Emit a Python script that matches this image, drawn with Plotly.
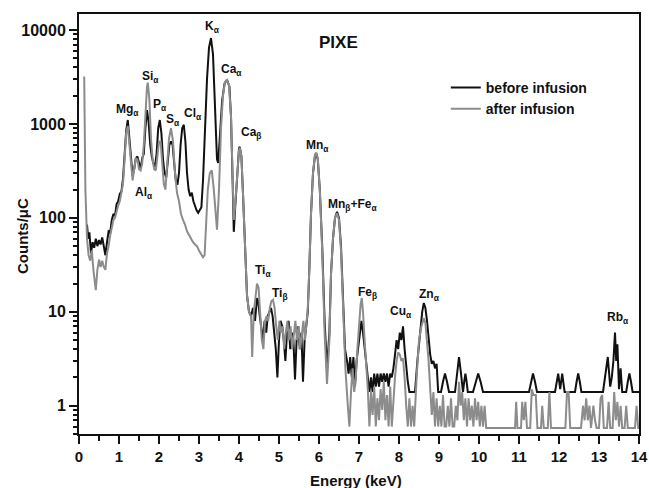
import numpy as np
import plotly.graph_objects as go

# ---------------- data ----------------
before_x = [0.20,0.23,0.26,0.30,0.34,0.38,0.42,0.46,0.50,0.54,0.58,0.62,0.66,0.70,0.74,0.78,0.82,0.86,0.90,0.94,0.98,
            1.02,1.06,1.10,1.14,1.18,1.22,1.26,1.30,1.34,1.38,1.42,1.46,1.50,1.54,1.58,1.62,1.66,1.70,1.74,1.78,1.82,1.86,1.90,1.94,1.98,
            2.02,2.06,2.10,2.14,2.18,2.22,2.26,2.30,2.34,2.38,2.42,2.46,2.50,2.54,2.58,2.62,2.66,2.70,2.74,2.78,2.82,2.86,2.90,2.94,2.98,
            3.02,3.06,3.10,3.15,3.20,3.25,3.30,3.35,3.40,3.45,3.48,3.52,3.58,3.64,3.70,3.76,3.80,3.84,3.87,3.90,3.95,4.00,4.02,4.06,4.10,4.15,
            4.20,4.25,4.30,4.35,4.40,4.45,4.48,4.52,4.56,4.60,4.64,4.68,4.72,4.76,4.80,4.84,4.88,4.92,4.96,5.00,5.04,5.08,5.12,5.16,5.20,
            5.24,5.28,5.32,5.36,5.40,5.44,5.48,5.52,5.56,5.60,5.64,5.68,5.72,5.76,5.80,5.85,5.90,5.93,5.97,6.02,6.08,6.14,6.20,6.26,6.30,
            6.35,6.40,6.45,6.50,6.55,6.60,6.65,6.70,6.74,6.78,6.82,6.86,6.90,6.94,6.98,7.02,7.06,7.10,7.14,7.18,7.22,7.26,7.30,7.34,7.38,
            7.42,7.46,7.50,7.54,7.58,7.62,7.66,7.70,7.74,7.78,7.82,7.86,7.90,7.94,7.98,8.02,8.06,8.10,8.14,8.18,8.22,8.26,8.30,8.40,8.46,
            8.52,8.58,8.62,8.66,8.70,8.74,8.78,8.82,8.86,8.90,8.94,8.98,9.05,9.10,9.15,9.20,9.25,9.40,9.45,9.50,9.54,9.56,9.60,9.63,9.66,9.69,
            9.72,9.85,9.92,9.98,10.04,10.10,11.25,11.30,11.35,11.40,11.45,11.90,11.98,12.03,12.08,12.14,12.40,12.44,12.48,12.52,12.56,
            13.10,13.16,13.22,13.28,13.32,13.36,13.40,13.43,13.46,13.50,13.54,13.58,13.68,13.72,13.76,13.80,13.84,14.00]
before_y = [85,60,70,42,55,48,60,50,58,52,62,48,40,55,72,70,95,110,105,140,150,
            180,190,260,450,850,1100,700,380,280,330,430,450,380,330,430,480,900,1400,1050,600,450,380,350,480,900,
            1100,800,420,300,270,400,600,650,600,380,250,225,300,600,900,980,650,300,200,170,185,150,130,120,113,
            120,130,250,900,3000,6500,8200,5500,1500,420,385,700,1800,2700,2950,2500,1200,250,71,120,300,550,570,450,180,50,
            15,10,9,11,8,14,13,9,7,5,8,6,9,10,11,9,6,4,2.0,5,8,7,5,3,6,
            8,4,6,5,1.9,5,7,4,6,1.8,5,7,10,30,110,300,460,490,420,200,50,8,2.5,6,25,
            60,100,116,100,50,12,4,3,2.2,3.3,2,3.3,1.6,3,4,6,8,6,4,2.5,2,1.4,2,1.4,2.2,
            1.6,2.2,1.6,2.2,1.8,2.2,1.8,2.2,1.6,2.2,2.0,2.5,3.5,5,4,6,5,7,4,2.5,1.8,1.4,1.4,1.4,3,
            6,10,12.4,11,8,5,3.5,2.8,3,2.5,2.8,1.4,1.4,1.8,2.2,1.8,1.4,1.4,2.3,3.3,2.4,2.0,1.4,1.8,2.2,1.8,
            1.4,1.4,1.8,2.2,1.8,1.4,1.4,1.8,2.2,1.8,1.4,1.4,2.2,1.5,2.2,1.4,1.4,1.8,2.2,1.8,1.4,
            1.4,2.2,3.3,1.6,2.0,3,6,3,4.5,1.5,2.5,1.4,1.4,1.8,2.2,1.8,1.4,1.4]

after_x = [0.13,0.16,0.20,0.24,0.28,0.32,0.36,0.40,0.42,0.46,0.50,0.54,0.58,0.62,0.66,0.70,0.74,0.78,0.82,0.86,0.90,0.94,0.98,
           1.02,1.06,1.10,1.14,1.18,1.22,1.26,1.30,1.34,1.38,1.42,1.46,1.50,1.54,1.58,1.62,1.66,1.70,1.72,1.76,1.80,1.84,1.88,1.92,1.96,
           2.00,2.04,2.08,2.12,2.16,2.20,2.25,2.30,2.35,2.40,2.45,2.50,2.55,2.60,2.65,2.70,2.75,2.80,2.85,2.90,2.95,3.00,3.05,3.10,3.14,
           3.18,3.22,3.27,3.32,3.37,3.42,3.45,3.50,3.55,3.60,3.65,3.70,3.75,3.80,3.84,3.87,3.90,3.95,4.00,4.02,4.06,4.10,4.15,4.20,4.25,
           4.30,4.33,4.37,4.41,4.45,4.49,4.53,4.57,4.61,4.65,4.69,4.73,4.77,4.81,4.85,4.89,4.93,4.97,5.01,5.05,5.09,5.13,5.17,5.21,5.25,
           5.29,5.33,5.37,5.41,5.45,5.49,5.53,5.57,5.61,5.65,5.69,5.72,5.76,5.80,5.85,5.90,5.93,5.97,6.02,6.08,6.14,6.20,6.26,6.30,6.35,
           6.40,6.45,6.50,6.55,6.60,6.66,6.72,6.76,6.80,6.84,6.88,6.92,6.96,7.00,7.04,7.07,7.10,7.14,7.18,7.22,7.26,7.30,7.34,7.38,7.42,
           7.46,7.50,7.54,7.58,7.62,7.66,7.70,7.74,7.78,7.82,7.86,7.90,7.94,7.98,8.02,8.06,8.10,8.14,8.18,8.22,8.26,8.30,8.34,8.38,8.44,
           8.50,8.56,8.62,8.66,8.70,8.74,8.78,8.82,8.86,8.90,8.94,8.98,9.02,9.06,9.10,9.14,9.18,9.22,9.26,9.30,9.34,9.38,9.42,9.46,9.50,
           9.54,9.58,9.62,9.66,9.70,9.74,9.78,9.82,9.86,9.90,9.94,9.98,10.02,10.06,10.10,10.14,10.18,10.90,10.93,10.96,11.05,11.08,11.12,
           11.16,11.20,11.28,11.32,11.36,11.42,11.46,11.55,11.58,11.62,11.72,11.76,11.80,12.16,12.20,12.24,12.28,12.55,12.60,12.64,12.68,
           12.72,12.76,12.80,12.86,12.90,12.94,13.00,13.04,13.08,13.12,13.20,13.24,13.28,13.34,13.38,13.42,13.46,13.50,13.54,13.58,13.64,
           13.68,13.72,13.90,13.94,13.98,14.00]
after_y = [3200,200,60,40,35,45,28,18,17,28,36,30,35,30,28,42,50,65,80,95,100,120,135,
           150,180,230,420,800,950,600,320,250,330,430,420,330,320,380,600,1500,2500,2750,1800,700,420,330,320,450,
           650,650,400,230,200,350,700,900,650,300,185,150,110,95,85,72,65,60,55,52,50,45,42,38,40,
           90,200,300,320,200,90,75,200,900,2000,2800,2950,2600,1200,300,95,130,300,520,560,450,180,50,15,10,
           9,3.3,10,14,20,18,10,5,4,8,9,8,11,13,13.4,11,7,5,8,6,7,4,6,8,5,
           7,4,6,8,5,7,4,6,8,5,8,11,30,110,300,470,490,430,200,45,6,1.7,5,25,60,
           100,112,95,45,10,2.5,1,0.6,1.4,2.5,1.4,2,4,8,12,14,10,5,3,1.5,0.6,1.4,0.8,1.6,0.6,
           1.2,0.7,1.5,0.9,1.8,0.7,1.3,0.6,1.6,0.6,1.2,2,3,3.7,3.5,3,3.2,2,1,0.6,1.2,0.6,1,0.6,2,
           5,7,8.5,7.6,5,3,1.5,0.8,1.4,0.6,1.2,0.6,1,0.6,1.3,0.6,0.6,1,0.6,1.2,0.6,0.6,1,0.7,1.8,
           1,1.4,0.7,1.2,0.6,1.2,0.7,1,0.6,1.2,0.7,1.1,0.6,1,0.6,1,0.58,0.58,1.1,0.58,0.58,1.1,0.7,
           1.1,0.58,0.58,1.5,1.3,1.3,0.58,0.58,1,0.58,0.58,1.4,0.58,0.58,1.4,1.4,0.58,0.58,1,0.7,1.2,
           0.7,1,0.58,1,0.7,0.58,0.58,1.2,1.3,0.58,0.58,1.1,0.58,0.58,1.4,0.7,1.1,0.6,1,0.58,0.58,
           1,0.58,0.58,1,0.58,0.58]

series_names = ["before infusion", "after infusion"]
series_colors = ["#111111", "#8c8c8c"]

# peak labels: (html text, energy keV, counts)
label_texts = ["Mg<sub>α</sub>", "Si<sub>α</sub>", "P<sub>α</sub>", "S<sub>α</sub>", "Cl<sub>α</sub>", "Al<sub>α</sub>",
               "K<sub>α</sub>", "Ca<sub>α</sub>", "Ca<sub>β</sub>", "Mn<sub>α</sub>", "Mn<sub>β</sub>+Fe<sub>α</sub>",
               "Ti<sub>α</sub>", "Ti<sub>β</sub>", "Fe<sub>β</sub>", "Cu<sub>α</sub>", "Zn<sub>α</sub>", "Rb<sub>α</sub>"]
label_x = [1.21, 1.79, 2.03, 2.36, 2.84, 1.63, 3.34, 3.81, 4.30, 5.96, 6.83, 4.60, 5.03, 7.20, 8.06, 8.75, 13.48]
label_y = [1410, 3160, 1580, 1100, 1260, 182, 10700, 3720, 810, 575, 138, 27, 15.5, 15.8, 10, 15.1, 8.5]

x_title = "Energy (keV)"
y_title = "Counts/μC"
chart_label = "PIXE"

font_family = "Liberation Sans, Arial, sans-serif"
bold = dict(family=font_family, color="#111", weight="bold")

fig = go.Figure()
fig.add_trace(go.Scatter(x=before_x, y=before_y, mode="lines", name=series_names[0],
                         line=dict(color=series_colors[0], width=2)))
fig.add_trace(go.Scatter(x=after_x, y=after_y, mode="lines", name=series_names[1],
                         line=dict(color=series_colors[1], width=2)))

for t, lx, ly in zip(label_texts, label_x, label_y):
    fig.add_annotation(x=lx, y=np.log10(ly), xref="x", yref="y", text=t, showarrow=False,
                       font=dict(size=12, **bold))

fig.add_annotation(x=6.48, y=np.log10(7400), xref="x", yref="y", text=chart_label, showarrow=False,
                   font=dict(size=17, **bold))

# axis titles (paper coords: plot area spans x 79..639 px, y 14..434 px)
fig.add_annotation(x=(356 - 79) / 560, y=(434 - 480) / 420, xref="paper", yref="paper", text=x_title,
                   showarrow=False, xanchor="center", yanchor="middle", font=dict(size=15, **bold))
fig.add_annotation(x=(22 - 79) / 560, y=(434 - 236) / 420, xref="paper", yref="paper", text=y_title,
                   showarrow=False, xanchor="center", yanchor="middle", textangle=-90, font=dict(size=15, **bold))

fig.update_layout(
    width=649, height=488,
    margin=dict(l=79, r=10, t=14, b=54, autoexpand=False),
    paper_bgcolor="white", plot_bgcolor="white",
    font=dict(family=font_family, color="#111"),
    showlegend=True,
    legend=dict(x=0.655, y=0.862, xanchor="left", yanchor="top", bgcolor="rgba(0,0,0,0)",
                font=dict(size=14, **bold), tracegroupgap=0, itemwidth=30),
    xaxis=dict(range=[0, 14], dtick=1, tick0=0, showline=True, linecolor="#111", linewidth=2,
               mirror=True, ticks="outside", ticklen=8, tickwidth=2, tickcolor="#111",
               showgrid=False, zeroline=False, automargin=False,
               tickfont=dict(size=15, **bold),
               minor=dict(dtick=0.5, ticks="outside", ticklen=5, tickwidth=2, tickcolor="#111", showgrid=False)),
    yaxis=dict(type="log", range=[np.log10(0.5), 4.17], dtick=1, showline=True, linecolor="#111", linewidth=2,
               mirror=True, ticks="outside", ticklen=8, tickwidth=2, tickcolor="#111",
               showgrid=False, zeroline=False, tickformat="d", automargin=False,
               tickfont=dict(size=16, **bold),
               minor=dict(ticks="outside", ticklen=4, tickwidth=1.5, tickcolor="#111", showgrid=False)),
)

fig.write_html("out.html")
